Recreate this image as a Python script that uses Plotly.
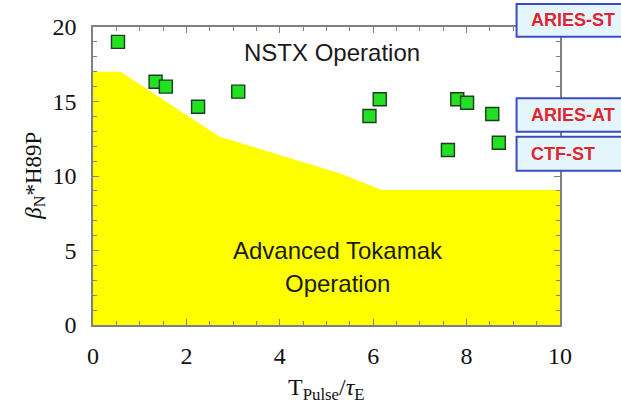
import plotly.graph_objects as go

# Boundary of the "Advanced Tokamak Operation" region
boundary_x = [0, 0.59, 2.71, 5.28, 6.18, 10]
boundary_y = [17.0, 17.0, 12.64, 10.18, 9.06, 9.06]

# NSTX operating points
nstx_x = [0.535, 1.34, 1.56, 2.25, 3.11, 5.92, 6.14, 7.60, 7.80, 8.01, 8.55, 8.69]
nstx_y = [19.0, 16.33, 16.0, 14.65, 15.66, 14.03, 15.15, 11.74, 15.15, 14.92, 14.16, 12.23]

x_ticks = [0, 2, 4, 6, 8, 10]
y_ticks = [0, 5, 10, 15, 20]

box_labels = ["ARIES-ST", "ARIES-AT", "CTF-ST"]

fig = go.Figure()
fig.add_trace(go.Scatter(
    x=boundary_x, y=boundary_y, mode="lines", fill="tozeroy",
    fillcolor="#ffff00", line=dict(width=0, color="#ffff00"),
    hoverinfo="skip", showlegend=False))
fig.add_trace(go.Scatter(
    x=nstx_x, y=nstx_y, mode="markers",
    marker=dict(symbol="square", size=13, color="#22e022",
                line=dict(color="#1e3d1e", width=1.4)),
    showlegend=False))

axis_common = dict(
    showline=True, linecolor="#808080", linewidth=1.5, mirror="ticks",
    ticks="inside", ticklen=6, tickwidth=1.2, tickcolor="#808080",
    showgrid=False, zeroline=False,
    tickfont=dict(family="Liberation Serif, Times New Roman, serif", size=24, color="#111111"),
)

fig.update_xaxes(range=[0, 10], tickvals=x_ticks, ticktext=[str(v) for v in x_ticks],
                 minor=dict(dtick=0.5, ticks="inside", ticklen=4, tickcolor="#808080", tickwidth=1),
                 ticklabelstandoff=8, **axis_common)
fig.update_yaxes(range=[0, 20], tickvals=y_ticks, ticktext=[str(v) for v in y_ticks],
                 minor=dict(dtick=1, ticks="inside", ticklen=4, tickcolor="#808080", tickwidth=1),
                 ticklabelstandoff=10, **axis_common)

sans = "Liberation Sans, Arial, sans-serif"
serif = "Liberation Serif, Times New Roman, serif"
annotations = [
    dict(x=5.11, y=18.3, xref="x", yref="y", text="NSTX Operation", showarrow=False,
         font=dict(family=sans, size=24, color="#1a1a1a")),
    dict(x=5.24, y=5.03, xref="x", yref="y", text="Advanced Tokamak", showarrow=False,
         font=dict(family=sans, size=24, color="#1a1a1a")),
    dict(x=5.24, y=2.8, xref="x", yref="y", text="Operation", showarrow=False,
         font=dict(family=sans, size=24, color="#1a1a1a")),
    dict(x=0.5, y=-0.215, xref="paper", yref="paper", yanchor="middle",
         text="T<sub>Pulse</sub>/<i>τ</i><sub>E</sub>", showarrow=False,
         font=dict(family=serif, size=24, color="#111111")),
    dict(x=-0.125, y=0.5, xref="paper", yref="paper", xanchor="center",
         text="<i>β</i><sub>N</sub>*H89P", textangle=-90, showarrow=False,
         font=dict(family=serif, size=23, color="#111111")),
]

box_y = [(0.9675, 1.077), (0.6487, 0.7607), (0.5178, 0.6319)]
shapes = []
for (y0, y1), label in zip(box_y, box_labels):
    shapes.append(dict(type="rect", xref="paper", yref="paper", x0=0.907, x1=1.16,
                       y0=y0, y1=y1, fillcolor="#e4f6fc",
                       line=dict(color="#3a4cc0", width=2), layer="above"))
    annotations.append(dict(x=0.9336, y=(y0 + y1) / 2, xref="paper", yref="paper",
                            xanchor="left", yanchor="middle", text=f"<b>{label}</b>",
                            showarrow=False,
                            font=dict(family=sans, size=18, color="#e02530")))

fig.update_layout(
    width=621, height=404,
    margin=dict(l=93, r=61, t=27, b=79),
    paper_bgcolor="white", plot_bgcolor="white",
    annotations=annotations, shapes=shapes,
)

fig.write_html("out.html", config={"displayModeBar": False},
               post_script="document.body.style.margin='0';")
